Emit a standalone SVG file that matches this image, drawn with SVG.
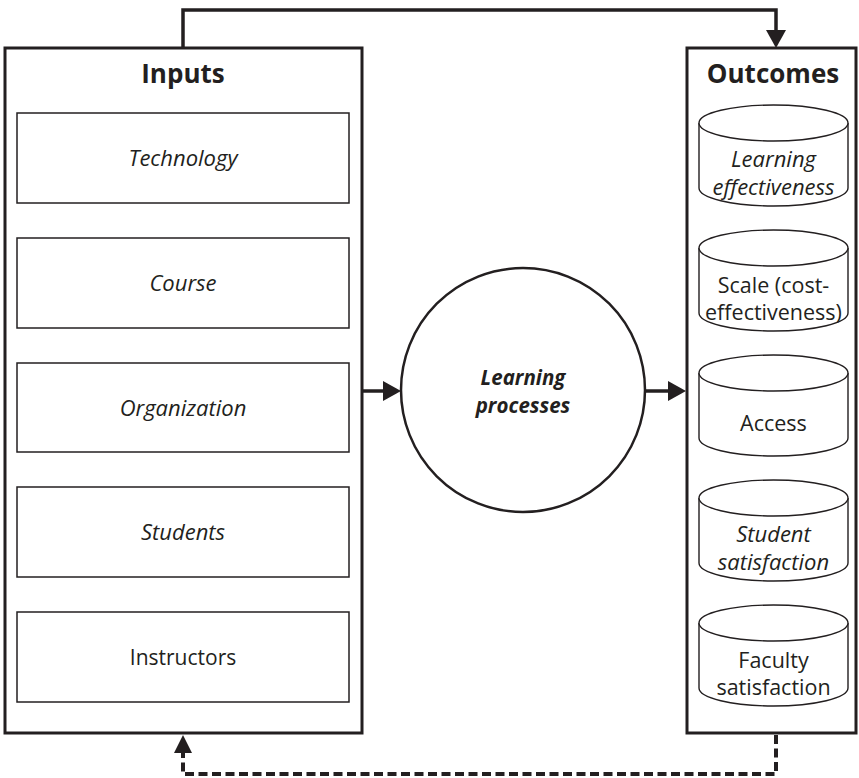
<svg xmlns="http://www.w3.org/2000/svg" width="859" height="778" viewBox="0 0 859 778">
<style>
.frame{fill:#fff;stroke:#231f20;stroke-width:3}
.box{fill:#fff;stroke:#231f20;stroke-width:1.5}
.cyl{fill:#fff;stroke:#231f20;stroke-width:1.4}
.circ{fill:#fff;stroke:#231f20;stroke-width:2.5}
.conn{fill:none;stroke:#231f20;stroke-width:3.5}
.dash{fill:none;stroke:#231f20;stroke-width:4;stroke-dasharray:9 4.5}
.head{fill:#231f20}
text{font-family:"Open Sans","Noto Sans","Liberation Sans",sans-serif;fill:#231f20;text-anchor:middle}
.title{font-size:26px;font-weight:bold}
.lbl{font-size:21px}
.cl{font-size:21.5px}
.it{font-style:italic;font-size:22px}
.bi{font-style:italic;font-weight:bold;font-size:20.5px}
</style>

<g id="connectors">
  <path class="conn" d="M183,48 V10 H776 V32"/>
  <polygon class="head" points="766,30 786,30 776,48"/>
  <path class="conn" d="M362,391 H385"/>
  <polygon class="head" points="383,381 383,401 401,391"/>
  <path class="conn" d="M645,391 H670"/>
  <polygon class="head" points="668,381 668,401 686,391"/>
  <path class="dash" d="M776,735 V774 H183 V751"/>
  <polygon class="head" points="174,753 192,753 183,735"/>
</g>

<g id="inputs">
  <rect class="frame" x="5" y="48" width="357" height="685"/>
  <text class="title" x="183" y="83">Inputs</text>
</g>
<g id="technology">
  <rect class="box" x="17" y="113" width="332" height="90"/>
  <text class="it" x="183" y="166">Technology</text>
</g>
<g id="course">
  <rect class="box" x="17" y="238" width="332" height="90"/>
  <text class="it" x="183" y="291">Course</text>
</g>
<g id="organization">
  <rect class="box" x="17" y="363" width="332" height="89"/>
  <text class="it" x="183" y="415.5">Organization</text>
</g>
<g id="students">
  <rect class="box" x="17" y="487" width="332" height="90"/>
  <text class="it" x="183" y="540">Students</text>
</g>
<g id="instructors">
  <rect class="box" x="17" y="612" width="332" height="90"/>
  <text class="lbl" x="183" y="664.5">Instructors</text>
</g>

<g id="learning-processes">
  <circle class="circ" cx="523" cy="390" r="122"/>
  <text class="bi" x="523" y="385">Learning</text>
  <text class="bi" x="523" y="413">processes</text>
</g>

<g id="outcomes">
  <rect class="frame" x="687" y="48" width="169" height="685"/>
  <text class="title" x="773" y="83">Outcomes</text>
</g>
<g id="learning-effectiveness">
  <path class="cyl" d="M699,123 V188 A74.5,18 0 0 0 848,188 V123"/>
  <ellipse class="cyl" cx="773.5" cy="123" rx="74.5" ry="18"/>
  <text class="it" x="773.5" y="167">Learning</text>
  <text class="it" x="773.5" y="195">effectiveness</text>
</g>
<g id="scale">
  <path class="cyl" d="M699,248 V313 A74.5,18 0 0 0 848,313 V248"/>
  <ellipse class="cyl" cx="773.5" cy="248" rx="74.5" ry="18"/>
  <text class="cl" x="773.5" y="292.5">Scale (cost-</text>
  <text class="cl" x="773.5" y="319.5">effectiveness)</text>
</g>
<g id="access">
  <path class="cyl" d="M699,373 V438 A74.5,18 0 0 0 848,438 V373"/>
  <ellipse class="cyl" cx="773.5" cy="373" rx="74.5" ry="18"/>
  <text class="cl" x="773.5" y="431">Access</text>
</g>
<g id="student-satisfaction">
  <path class="cyl" d="M699,498 V563 A74.5,18 0 0 0 848,563 V498"/>
  <ellipse class="cyl" cx="773.5" cy="498" rx="74.5" ry="18"/>
  <text class="it" x="773.5" y="542">Student</text>
  <text class="it" x="773.5" y="570">satisfaction</text>
</g>
<g id="faculty-satisfaction">
  <path class="cyl" d="M699,623 V688 A74.5,18 0 0 0 848,688 V623"/>
  <ellipse class="cyl" cx="773.5" cy="623" rx="74.5" ry="18"/>
  <text class="cl" x="773.5" y="667.5">Faculty</text>
  <text class="cl" x="773.5" y="694.5">satisfaction</text>
</g>
</svg>
